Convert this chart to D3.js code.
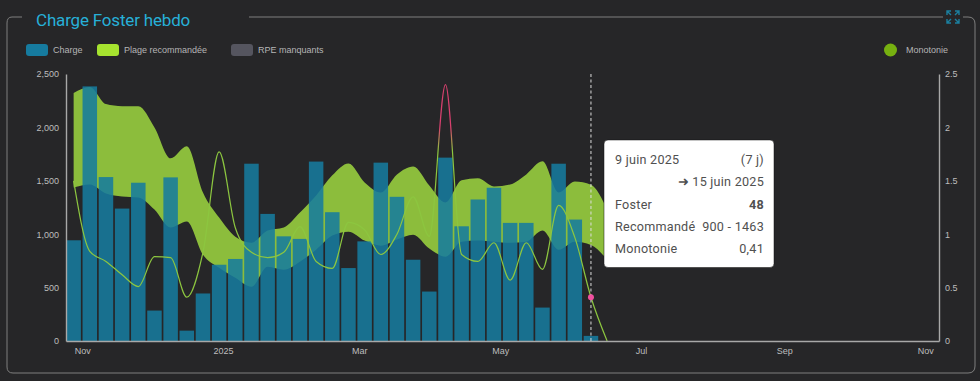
<!DOCTYPE html>
<html>
<head>
<meta charset="utf-8">
<script src="https://cdnjs.cloudflare.com/ajax/libs/d3/7.8.5/d3.min.js"></script>
<style>
	html, body { margin: 0; padding: 0; background: #262628; overflow: hidden; }
	svg { display: block; }
	text { font-family: "Liberation Sans", Arial, sans-serif; }
	.axis text { fill: #bdbdbd; font-size: 9px; }
	.axis line { display: none; }
	.axis path { stroke: #a8a8a8; stroke-width: 1.4; }
	.legend text { fill: #b5b5b5; font-size: 9px; }
	.tooltip text { font-family: Roboto, sans-serif; font-size: 12.6px; fill: #505050; letter-spacing: .25px; }
</style>
</head>
<body>
<div class="chart"></div>
<script>
var weeks = ["2024-10-28","2024-11-04","2024-11-11","2024-11-18","2024-11-25","2024-12-02","2024-12-09","2024-12-16","2024-12-23","2024-12-30","2025-01-06","2025-01-13","2025-01-20","2025-01-27","2025-02-03","2025-02-10","2025-02-17","2025-02-24","2025-03-03","2025-03-10","2025-03-17","2025-03-24","2025-03-31","2025-04-07","2025-04-14","2025-04-21","2025-04-28","2025-05-05","2025-05-12","2025-05-19","2025-05-26","2025-06-02","2025-06-09","2025-06-16"]
var charge = [943,2384,1535,1240,1482,285,1532,97,445,714,768,1660,1190,980,956,1680,1206,683,933,1670,1350,761,463,1717,1074,1325,1435,1106,1106,313,1660,1137,48]
var upper = [2321,2378,2218,2199,2199,2000,1710,1823,1391,1156,977,921,1034,1062,1203,1363,1551,1663,1485,1391,1560,1635,1457,1297,1504,1523,1447,1466,1560,1682,1391,1494,1463,1231]
var lower = [1438,1466,1381,1353,1344,1231,1062,1118,808,686,592,507,695,667,742,855,987,1024,940,893,950,996,865,790,930,940,930,920,930,1034,855,930,900,761]
var monotonie = [1.5,.84,.745,.62,.51,.79,.78,.41,.83,1.77,1.06,.83,.78,.83,1.07,.745,.68,1.11,1.04,.81,1,1.35,.98,2.4,.81,.745,.92,.57,.92,.67,1.27,.97,.41,0]
var leftTicks = [0,500,1000,1500,2000,2500]
var rightTicks = [0,.5,1,1.5,2,2.5]
var monthTicks = ["2024-11-01","2025-01-01","2025-03-01","2025-05-01","2025-07-01","2025-09-01","2025-11-01"]
var legendItems = [
	{label:"Charge",color:"#167b9f",x:26},
	{label:"Plage recommandée",color:"#a6e32f",x:97},
	{label:"RPE manquants",color:"#55555f",x:231}
]
var tooltipRows = [
	["9 juin 2025","(7 j)"],
	["","➜ 15 juin 2025"],
	["Foster","48"],
	["Recommandé","900 - 1463"],
	["Monotonie","0,41"]
]

var width = 980
var height = 381
var parseDay = d3.utcParse("%Y-%m-%d")
var dates = weeks.map(parseDay)
var svg = d3.select(".chart").append("svg").attr("width",width).attr("height",height)

//scales
var xPos = d3.scaleUtc().domain([parseDay("2024-10-25"),parseDay("2025-11-07")]).range([66.7,939.7])
var yLeft = d3.scaleLinear().domain([0,2500]).range([341,74])
var yRight = d3.scaleLinear().domain([0,2.5]).range([341,74])

//frame
svg.append("path")
	.attr("d","M22,17 H12 Q7,17 7,23 V367 Q7,373 13,373 H968 Q975,373 975,366 V24 Q975,17 968,17 H963 M943,17 H249")
	.attr("fill","none").attr("stroke","#7e7e7e").attr("stroke-width",1)
svg.append("text").attr("x",36).attr("y",25.5)
	.style("font-family","Roboto, sans-serif").style("font-size","17px").style("letter-spacing","-.18px")
	.attr("fill","#27b0d8").text("Charge Foster hebdo")

//expand icon
svg.append("path")
	.attr("d","M947,11 L951,15 M947,15 V11 H951 M959,11 L955,15 M955,11 H959 V15 M947,23 L951,19 M947,19 V23 H951 M959,23 L955,19 M955,23 H959 V19")
	.attr("fill","none").attr("stroke","#1b7f9f").attr("stroke-width",1.4)

//legend
var legend = svg.append("g").attr("class","legend")
legendItems.forEach(function(item) {
	legend.append("rect").attr("x",item.x).attr("y",44).attr("width",22).attr("height",12).attr("rx",3).attr("fill",item.color)
	legend.append("text").attr("x",item.x+27).attr("y",53).text(item.label)
})
legend.append("circle").attr("cx",890.5).attr("cy",50).attr("r",6.5).attr("fill","#76b010")
legend.append("text").attr("x",906).attr("y",53).text("Monotonie")

//recommended range
var band = d3.area().curve(d3.curveMonotoneX)
	.x(function(d,i){return xPos(dates[i])})
	.y0(function(d,i){return yLeft(lower[i])})
	.y1(function(d){return yLeft(d)})
svg.append("path").datum(upper).attr("d",band).attr("fill","#a6e341").attr("opacity",.8)

//bars
var barWidth = 14.5
svg.append("g").selectAll("rect").data(charge).enter().append("rect")
	.attr("x",function(d,i){return xPos(dates[i])-barWidth/2})
	.attr("y",function(d){return yLeft(d)})
	.attr("width",barWidth)
	.attr("height",function(d){return yLeft(0)-yLeft(d)})
	.attr("fill","#167b9f")
	.attr("opacity",.87)

//monotony line goes red above 2
var gradient = svg.append("defs").append("linearGradient").attr("id","monotonieColor")
	.attr("gradientUnits","userSpaceOnUse").attr("x1",0).attr("x2",0)
	.attr("y1",yRight(2.5)).attr("y2",yRight(0))
gradient.append("stop").attr("offset",(2.5-2)/2.5).attr("stop-color","#d8406e")
gradient.append("stop").attr("offset",(2.5-1.78)/2.5).attr("stop-color","#8cc63f")
gradient.append("stop").attr("offset",1).attr("stop-color","#8cc63f")
var line = d3.line().curve(d3.curveMonotoneX)
	.x(function(d,i){return xPos(dates[i])})
	.y(function(d){return yRight(d)})
svg.append("path").datum(monotonie).attr("d",line).attr("fill","none")
	.attr("stroke","url(#monotonieColor)").attr("stroke-width",1.2)

//axes
svg.append("g").attr("class","axis").attr("transform","translate(66,0)")
	.call(d3.axisLeft(yLeft).tickValues(leftTicks).tickSize(0).tickPadding(7).tickFormat(d3.format(",")))
svg.append("g").attr("class","axis").attr("transform","translate(939,0)")
	.call(d3.axisRight(yRight).tickValues(rightTicks).tickSize(0).tickPadding(6).tickFormat(d3.format("")))
svg.append("g").attr("class","axis").attr("transform","translate(-.7,341)")
	.call(d3.axisBottom(xPos).tickValues(monthTicks.map(parseDay)).tickSize(0).tickPadding(7)
		.tickFormat(function(d){return d.getUTCMonth()==0 ? d3.utcFormat("%Y")(d) : d3.utcFormat("%b")(d)}))

//hovered week
var hovered = 32
svg.append("line").attr("x1",xPos(dates[hovered])).attr("x2",xPos(dates[hovered])).attr("y1",74).attr("y2",341)
	.attr("stroke","#dddddd").attr("stroke-dasharray","3,2.5").attr("stroke-width",1)
svg.append("circle").attr("cx",xPos(dates[hovered])).attr("cy",yRight(monotonie[hovered])).attr("r",3).attr("fill","#f0509f")

//tooltip
var tooltip = svg.append("g").attr("class","tooltip")
tooltip.append("rect").attr("x",604).attr("y",140).attr("width",170).attr("height",127.5).attr("rx",4).attr("fill","#ffffff").attr("stroke","#111111").attr("stroke-width",.5)
var rowY = [164,186,208.5,231,253]
tooltipRows.forEach(function(row,i) {
	tooltip.append("text").attr("x",615).attr("y",rowY[i]).text(row[0])
	tooltip.append("text").attr("x",764).attr("y",rowY[i]).attr("text-anchor","end")
		.style("font-weight",row[1]=="48" ? "700" : "400").text(row[1])
})
</script>
</body>
</html>
